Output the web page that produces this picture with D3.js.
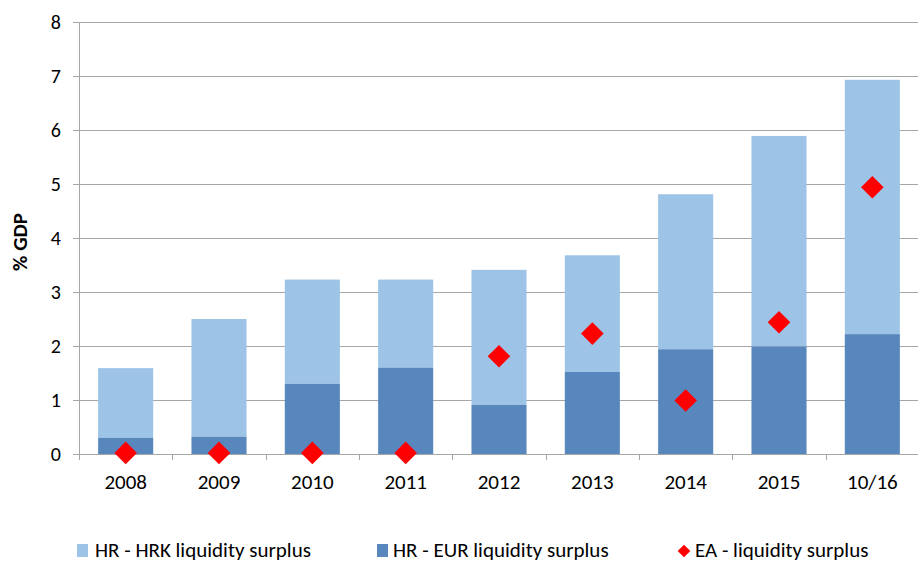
<!DOCTYPE html>
<html>
<head>
<meta charset="utf-8">
<script src="https://cdn.jsdelivr.net/npm/d3@7"></script>
<style>
  body { margin: 0; background: #fff; }
  text { font-family: Carlito, Calibri, Lato, "Open Sans", sans-serif; fill: #000; }
</style>
</head>
<body>
<svg id="chart" width="918" height="564"></svg>
<script>
// categories and series
var categories = ["2008", "2009", "2010", "2011", "2012", "2013", "2014", "2015", "10/16"];
var eurSurplus = [0.30, 0.32, 1.30, 1.60, 0.91, 1.52, 1.94, 1.99, 2.22];
var totalSurplus = [1.59, 2.50, 3.23, 3.23, 3.41, 3.68, 4.81, 5.89, 6.93];
var eaSurplus = [0.02, 0.02, 0.02, 0.02, 1.81, 2.23, 0.99, 2.44, 4.94];
var yTicks = [0, 1, 2, 3, 4, 5, 6, 7, 8];
var legendLabels = ["HR - HRK liquidity surplus", "HR - EUR liquidity surplus", "EA - liquidity surplus"];

var colLight = "#9dc3e6", colDark = "#5887be", colRed = "#ff0000", gridCol = "#a6a6a6";

var svg = d3.select("#chart");
var mLeft = 79, mRight = 919, mTop = 22, mBottom = 454;

var x = d3.scaleBand().domain(categories).range([mLeft, mRight]).paddingInner(0.41).paddingOuter(0.205);
var y = d3.scaleLinear().domain([0, 8]).range([mBottom, mTop]);

// grid lines
svg.append("g").selectAll("line")
    .data(yTicks.filter(function(d) { return d > 0; }))
  .enter().append("line")
    .attr("x1", mLeft - 6).attr("x2", mRight)
    .attr("y1", function(d) { return Math.round(y(d)) + 0.5; })
    .attr("y2", function(d) { return Math.round(y(d)) + 0.5; })
    .attr("stroke", gridCol).attr("stroke-width", 1);

svg.append("g").selectAll("text")
    .data(yTicks)
  .enter().append("text")
    .attr("x", 61).attr("y", function(d) { return y(d); })
    .attr("dy", "0.35em").attr("text-anchor", "end")
    .style("font-size", "20px")
    .text(function(d) { return d; });

// stacked bars
var rows = categories.map(function(c, i) {
  return { cat: c, eur: eurSurplus[i], total: totalSurplus[i], ea: eaSurplus[i] };
});

var bars = svg.append("g").selectAll("g").data(rows).enter().append("g");
bars.append("rect")
    .attr("x", function(d) { return x(d.cat); })
    .attr("width", x.bandwidth())
    .attr("y", function(d) { return y(d.total); })
    .attr("height", function(d) { return y(d.eur) - y(d.total); })
    .attr("fill", colLight);
bars.append("rect")
    .attr("x", function(d) { return x(d.cat); })
    .attr("width", x.bandwidth())
    .attr("y", function(d) { return y(d.eur); })
    .attr("height", function(d) { return y(0) - y(d.eur); })
    .attr("fill", colDark);

// axis lines and ticks
svg.append("line").attr("x1", mLeft + 0.5).attr("x2", mLeft + 0.5).attr("y1", mTop).attr("y2", mBottom + 6)
    .attr("stroke", gridCol);
svg.append("line").attr("x1", mLeft - 6).attr("x2", mRight).attr("y1", mBottom + 0.5).attr("y2", mBottom + 0.5)
    .attr("stroke", gridCol);
var step = x.step();
svg.append("g").selectAll("line")
    .data(d3.range(1, categories.length + 1))
  .enter().append("line")
    .attr("x1", function(i) { return Math.round(mLeft + i * step) + 0.5; })
    .attr("x2", function(i) { return Math.round(mLeft + i * step) + 0.5; })
    .attr("y1", mBottom).attr("y2", mBottom + 6)
    .attr("stroke", gridCol);

svg.append("g").selectAll("text")
    .data(categories)
  .enter().append("text")
    .attr("x", function(d) { return x(d) + x.bandwidth() / 2; })
    .attr("y", 489).attr("text-anchor", "middle")
    .style("font-size", "21px")
    .text(function(d) { return d; });

// EA diamonds
var diamond = d3.symbol().type(d3.symbolSquare).size(256);
svg.append("g").selectAll("path")
    .data(rows)
  .enter().append("path")
    .attr("d", diamond)
    .attr("transform", function(d) {
      return "translate(" + (x(d.cat) + x.bandwidth() / 2) + "," + y(d.ea) + ") rotate(45)";
    })
    .attr("fill", colRed);

// y axis title
svg.append("text")
    .attr("transform", "translate(27," + (y(4) + 4) + ") rotate(-90)")
    .attr("text-anchor", "middle")
    .style("font-size", "21px").style("font-weight", "bold")
    .text("% GDP");

// legend
var ly = 550;
var legend = svg.append("g");
legend.append("rect").attr("x", 77).attr("y", ly - 6).attr("width", 11).attr("height", 13).attr("fill", colLight);
legend.append("text").attr("x", 95).attr("y", ly).attr("dy", "0.35em").style("font-size", "21px").text(legendLabels[0]);
legend.append("rect").attr("x", 377).attr("y", ly - 6).attr("width", 11).attr("height", 13).attr("fill", colDark);
legend.append("text").attr("x", 393).attr("y", ly).attr("dy", "0.35em").style("font-size", "21px").text(legendLabels[1]);
legend.append("path").attr("d", d3.symbol().type(d3.symbolSquare).size(80))
    .attr("transform", "translate(684," + (ly + 1) + ") rotate(45)").attr("fill", colRed);
legend.append("text").attr("x", 695).attr("y", ly).attr("dy", "0.35em").style("font-size", "21px").text(legendLabels[2]);
</script>
</body>
</html>
